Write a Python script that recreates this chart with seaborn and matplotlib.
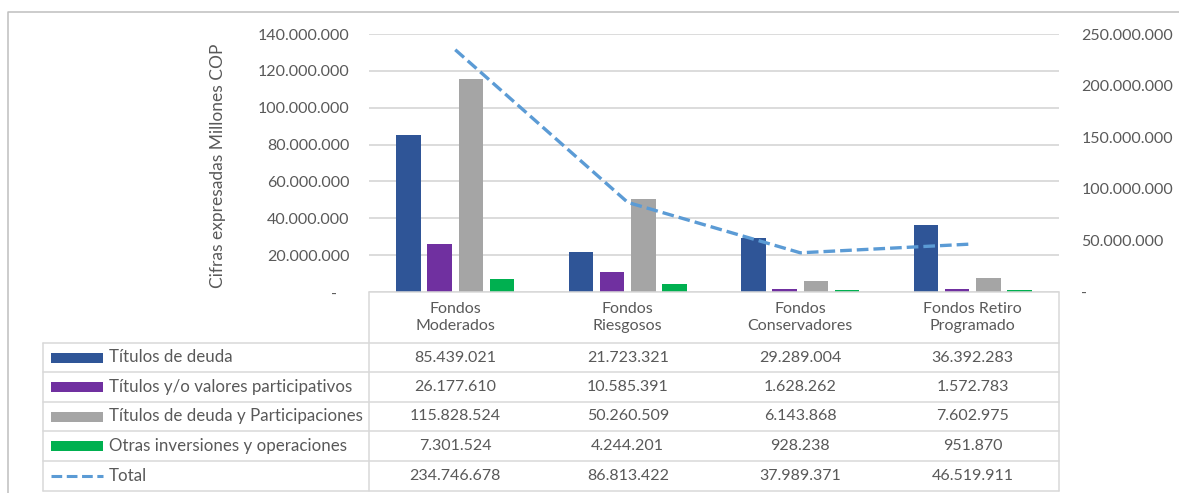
import numpy as np
import pandas as pd
import matplotlib
matplotlib.use("Agg")
import matplotlib.pyplot as plt
from matplotlib.ticker import FixedLocator, FuncFormatter
from matplotlib.patches import Rectangle
import matplotlib.transforms as mtransforms
import seaborn as sns

# ---- data -------------------------------------------------------------
categorias = ["Fondos\nModerados", "Fondos\nRiesgosos",
              "Fondos\nConservadores", "Fondos Retiro\nProgramado"]
series = ["Títulos de deuda",
          "Títulos y/o valores participativos",
          "Títulos de deuda y Participaciones",
          "Otras inversiones y operaciones"]
titulos_deuda = [85439021, 21723321, 29289004, 36392283]
titulos_participativos = [26177610, 10585391, 1628262, 1572783]
deuda_y_participaciones = [115828524, 50260509, 6143868, 7602975]
otras_inversiones = [7301524, 4244201, 928238, 951870]
total = [234746678, 86813422, 37989371, 46519911]
etiqueta_total = "Total"
eje_y = "Cifras expresadas Millones COP"

valores = [titulos_deuda, titulos_participativos,
           deuda_y_participaciones, otras_inversiones]
colores = ["#2F5597", "#7030A0", "#A5A5A5", "#00B050"]
color_total = "#5B9BD5"
TXT = "#595959"
GRID = "#D9D9D9"
DASH = (0, (3.5, 1.5))

df = pd.DataFrame(
    [(c, s, v) for s, vals in zip(series, valores) for c, v in zip(categorias, vals)],
    columns=["categoria", "serie", "valor"],
)


def miles(v):
    return f"{int(round(v)):,}".replace(",", ".")


# ---- figure -----------------------------------------------------------
sns.set_theme(style="white")
plt.rcParams["font.family"] = ["Lato", "DejaVu Sans"]
FS = 11.5
FS_FILA = 12.2

W, H = 1179, 493
fig = plt.figure(figsize=(W / 100, H / 100), dpi=100)


def caja(l, t, r, b):
    return [l / W, 1 - b / H, (r - l) / W, (b - t) / H]


ax = fig.add_axes(caja(369, 34, 1059, 292))
sns.barplot(data=df, x="categoria", y="valor", hue="serie",
            order=categorias, hue_order=series, palette=colores,
            saturation=1, width=0.72, gap=0.21, linewidth=0,
            errorbar=None, legend=False, ax=ax)

ax.set_ylim(0, 140e6)
ax.yaxis.set_major_locator(FixedLocator(np.arange(0, 140e6 + 1, 20e6)))
ax.yaxis.set_major_formatter(FuncFormatter(lambda v, _: "-   " if v == 0 else miles(v)))
ax.tick_params(axis="y", length=0, pad=14, labelsize=FS, labelcolor=TXT)
ax.tick_params(axis="x", length=0, labelbottom=False)
ax.set_xlabel("")
ax.set_ylabel(eje_y, fontsize=FS + 1, color=TXT)
ax.yaxis.set_label_coords((226 - 369) / 690, (292 - 166) / 258)
ax.yaxis.grid(True, color=GRID, linewidth=1.3)
ax.xaxis.grid(False)
ax.set_axisbelow(True)
for sp in ax.spines.values():
    sp.set_visible(False)

# Total on the secondary axis
ax2 = ax.twinx()
sns.lineplot(x=np.arange(len(categorias)), y=total, ax=ax2,
             color=color_total, linewidth=2.4, linestyle=DASH)
ax2.set_ylim(0, 250e6)
ax2.yaxis.set_major_locator(FixedLocator(np.arange(0, 250e6 + 1, 50e6)))
ax2.yaxis.set_major_formatter(FuncFormatter(lambda v, _: "-" if v == 0 else miles(v)))
ax2.tick_params(axis="y", length=0, pad=16, labelsize=FS, labelcolor=TXT)
ax2.set_ylabel("")
ax2.grid(False)
for sp in ax2.spines.values():
    sp.set_visible(False)
ax.set_xlim(-0.5, len(categorias) - 0.5)

# ---- data table below the plot ----------------------------------------
tab = fig.add_axes([0, 0, 1, 1])
tab.set_xlim(0, W)
tab.set_ylim(H, 0)
tab.axis("off")
tab.set_zorder(5)
cols = mtransforms.blended_transform_factory(ax.transData, tab.transData)

# chart frame
tab.plot([8, 8, W + 5], [H + 5, 12, 12], color="#BFBFBF", lw=1.1, clip_on=False)

lw_t = 1.1
tab.plot([369, 1059], [292, 292], color=GRID, lw=lw_t)
tab.plot([369, 369], [292, 491], color=GRID, lw=lw_t)
tab.plot([1059, 1059], [292, 491], color=GRID, lw=lw_t)
tab.plot([43, 43], [343, 491], color=GRID, lw=lw_t)
filas_y = [343, 372, 402, 431, 461, 491]
for y in filas_y:
    tab.plot([43, 1059], [y, y], color=GRID, lw=lw_t)

for i, c in enumerate(categorias):
    tab.text(i, 317.5, c, transform=cols, ha="center", va="center",
             fontsize=FS, color=TXT, linespacing=1.35)

centros = [(a + b) / 2 for a, b in zip(filas_y[:-1], filas_y[1:])]
for k, (s, vals, col) in enumerate(zip(series, valores, colores)):
    yc = centros[k]
    tab.add_patch(Rectangle((51, yc - 5), 52, 10, color=col, lw=0))
    tab.text(109, yc, s, ha="left", va="center", fontsize=FS_FILA, color=TXT)
    for i, v in enumerate(vals):
        tab.text(i, yc, miles(v), transform=cols, ha="center", va="center",
                 fontsize=FS, color=TXT)

yc = centros[-1]
tab.plot([51, 103], [yc, yc], color=color_total, lw=2.2, linestyle=DASH)
tab.text(109, yc, etiqueta_total, ha="left", va="center", fontsize=FS_FILA, color=TXT)
for i, v in enumerate(total):
    tab.text(i, yc, miles(v), transform=cols, ha="center", va="center",
             fontsize=FS, color=TXT)

fig.savefig("out.png", dpi=100, facecolor="white")
